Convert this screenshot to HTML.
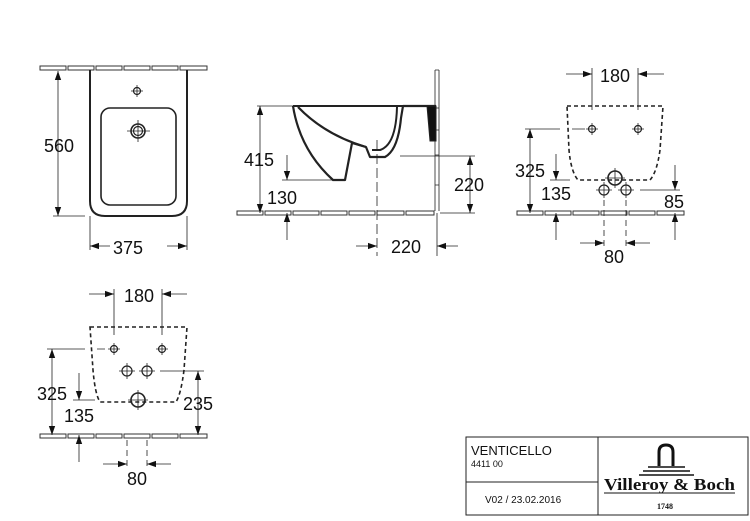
<!DOCTYPE html>
<html><head><meta charset="utf-8"><style>
html,body{margin:0;padding:0;background:#fff;}
svg{display:block;}
text{font-family:"Liberation Sans",sans-serif;fill:#111;}
</style></head><body>
<svg width="750" height="521" viewBox="0 0 750 521" xmlns="http://www.w3.org/2000/svg">
<defs>
<marker id="a" viewBox="0 0 10 10" refX="10" refY="5" markerWidth="9" markerHeight="9" markerUnits="userSpaceOnUse" orient="auto-start-reverse"><path d="M0,1.5 L10,5 L0,8.5z" fill="#111"/></marker>
<g id="floor" fill="#fff" stroke="#333" stroke-width="1">
<rect x="0" y="0" width="26" height="4"/><rect x="28" y="0" width="26" height="4"/><rect x="56" y="0" width="26" height="4"/><rect x="84" y="0" width="26" height="4"/><rect x="112" y="0" width="26" height="4"/><rect x="140" y="0" width="27" height="4"/>
</g>
<g id="cross"><circle r="3.5" fill="none" stroke="#222" stroke-width="1.2"/><path d="M-6,0H6M0,-6V6" stroke="#222" stroke-width="0.8"/></g>
<g id="hole"><circle r="5" fill="none" stroke="#222" stroke-width="1.2"/><path d="M-8,0H8M0,-8V8" stroke="#222" stroke-width="0.8"/></g>
</defs>
<g stroke="#222" stroke-width="0.8" fill="none">
<!-- VIEW 1 -->
<use href="#floor" x="40" y="66"/>
<path d="M90,70 V201 Q90,216 105,216 H172 Q187,216 187,201 V70" stroke-width="2"/>
<rect x="101" y="108" width="75" height="97" rx="9" stroke-width="1.6"/>
<use href="#cross" x="137" y="91"/>
<circle cx="138" cy="131" r="7" stroke-width="1.6"/><circle cx="138" cy="131" r="4.5" stroke-width="1.2"/>
<path d="M127,131H150M138,120V142"/>
<path d="M53,216H85"/>
<path d="M58,71V216" marker-start="url(#a)" marker-end="url(#a)"/>
<path d="M90,216V250M187,216V250"/>
<path d="M90,246H110" marker-start="url(#a)"/><path d="M167,246H187" marker-end="url(#a)"/>
<!-- VIEW 2 -->
<use href="#floor" x="237" y="211"/>
<rect x="406" y="211" width="28" height="4" fill="#fff" stroke="#333" stroke-width="1"/>
<path d="M435,70V211M439,70V211" />
<path d="M435,70H439M435,108H439M435,130H439M435,155H439M435,185H439" />
<path d="M293,106 Q300,150 333,180 H345 L352,143 L366,147 L370,157 H385 Q398,150 401,118 L403,106 H436" stroke-width="2.2" stroke-linejoin="round"/>
<path d="M293,106 H403" stroke-width="2"/>
<path d="M298,107 Q325,135 366,147" stroke-width="2.2"/>
<path d="M397,107 Q396,145 380,150 H372" stroke-width="2"/>
<path d="M427,106 H436 V141 H430 Z" fill="#111" stroke-width="1"/>
<path d="M257,106H293"/>
<path d="M260,106V213" marker-start="url(#a)" marker-end="url(#a)"/>
<path d="M282,180H345"/>
<path d="M287,155V180" marker-end="url(#a)"/><path d="M287,240V213" marker-end="url(#a)"/>
<path d="M377,140V256" stroke-dasharray="10,4"/>
<path d="M400,156H475M440,213H475"/>
<path d="M470,156V213" marker-start="url(#a)" marker-end="url(#a)"/>
<path d="M437,213V256"/>
<path d="M356,246H377" marker-end="url(#a)"/><path d="M458,246H437" marker-end="url(#a)"/>
<!-- VIEW 3 -->
<use href="#floor" x="517" y="211"/>
<path d="M567,106 H663 L660,150 Q657,172 650,180 H578 Q571,172 569,150 Z" stroke-width="1.6" stroke-dasharray="4,3"/>
<use href="#cross" x="592" y="129"/><use href="#cross" x="638" y="129"/>
<circle cx="615" cy="178" r="7" stroke-width="1.6"/><path d="M615,168V188M605,178H625"/>
<use href="#hole" x="604" y="190"/><use href="#hole" x="626" y="190"/>
<path d="M592,68V110M638,68V110"/>
<path d="M566,74H592" marker-end="url(#a)"/><path d="M664,74H638" marker-end="url(#a)"/>
<path d="M525,129H560M572,129H585" />
<path d="M530,129V213" marker-start="url(#a)" marker-end="url(#a)"/>
<path d="M550,180H570"/>
<path d="M556,154V180" marker-end="url(#a)"/><path d="M556,240V213" marker-end="url(#a)"/>
<path d="M640,190H680"/>
<path d="M675,165V190" marker-end="url(#a)"/><path d="M675,240V213" marker-end="url(#a)"/>
<path d="M604,200V248M626,200V248" stroke-dasharray="6,4"/>
<path d="M580,243H604" marker-end="url(#a)"/><path d="M650,243H626" marker-end="url(#a)"/>
<!-- VIEW 4 -->
<use href="#floor" x="40" y="434"/>
<path d="M90,327 H187 L184,370 Q181,394 176,402 H100 Q95,394 93,370 Z" stroke-width="1.6" stroke-dasharray="4,3"/>
<use href="#cross" x="114" y="349"/><use href="#cross" x="162" y="349"/>
<use href="#hole" x="127" y="371"/><use href="#hole" x="147" y="371"/>
<circle cx="138" cy="400" r="7" stroke-width="1.6"/><path d="M138,390V410M128,400H148"/>
<path d="M114,289V335M162,289V335"/>
<path d="M89,294H114" marker-end="url(#a)"/><path d="M187,294H162" marker-end="url(#a)"/>
<path d="M47,349H85M97,349H105"/>
<path d="M52,349V435" marker-start="url(#a)" marker-end="url(#a)"/>
<path d="M73,400H95"/>
<path d="M79,373V400" marker-end="url(#a)"/><path d="M79,462V435" marker-end="url(#a)"/>
<path d="M160,371H204"/>
<path d="M198,371V435" marker-start="url(#a)" marker-end="url(#a)"/>
<path d="M127,440V468M147,440V468" stroke-dasharray="6,4"/>
<path d="M103,464H127" marker-end="url(#a)"/><path d="M171,464H147" marker-end="url(#a)"/>
<!-- TITLE BLOCK -->
<rect x="466" y="437" width="282" height="78" stroke="#222" stroke-width="1"/>
<path d="M598,437V515M466,482H598" stroke-width="1"/>
</g>
<g font-size="18">
<text x="44" y="152">560</text>
<text x="113" y="254">375</text>
<text x="244" y="166">415</text>
<text x="267" y="204">130</text>
<text x="454" y="191">220</text>
<text x="391" y="253">220</text>
<text x="600" y="82">180</text>
<text x="515" y="177">325</text>
<text x="541" y="200">135</text>
<text x="664" y="208">85</text>
<text x="604" y="263">80</text>
<text x="124" y="302">180</text>
<text x="37" y="400">325</text>
<text x="64" y="422">135</text>
<text x="183" y="410">235</text>
<text x="127" y="485">80</text>
</g>
<text x="471" y="455" font-size="13">VENTICELLO</text>
<text x="471" y="467" font-size="9">4411 00</text>
<text x="485" y="503" font-size="10">V02 / 23.02.2016</text>
<g stroke="#111" fill="none">
<path d="M659,466V452Q659,445 666,445Q673,445 673,452V466" stroke-width="3"/>
<path d="M648,467H685" stroke-width="1.5"/><path d="M643,471H690" stroke-width="1.5"/><path d="M639,475H694" stroke-width="1.5"/>
<path d="M604,493H735" stroke-width="1"/>
</g>
<text x="604" y="490" font-size="17" font-weight="bold" style="font-family:'Liberation Serif',serif" textLength="131" lengthAdjust="spacingAndGlyphs">Villeroy &amp; Boch</text>
<text x="657" y="509" font-size="8" font-weight="bold" style="font-family:'Liberation Serif',serif">1748</text>
</svg>
</body></html>
